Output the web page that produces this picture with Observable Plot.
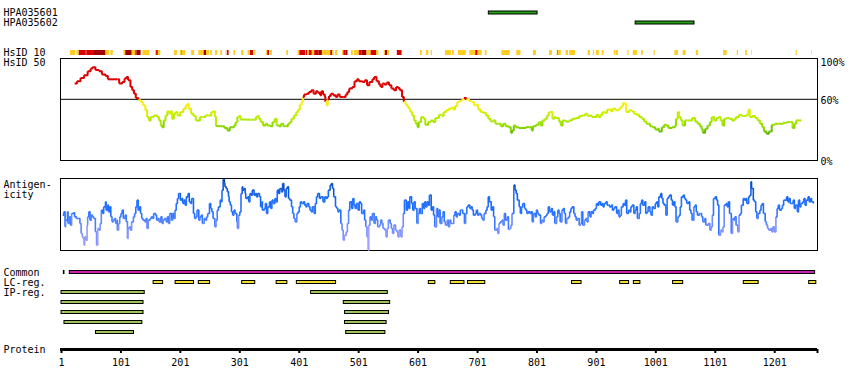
<!DOCTYPE html>
<html><head><meta charset="utf-8">
<script src="https://cdn.jsdelivr.net/npm/d3@7"></script>
<script src="https://cdn.jsdelivr.net/npm/@observablehq/plot@0.6"></script>
<style>
body{margin:0;background:#fff}
#chart{position:relative;width:850px;height:390px;overflow:hidden;background:#fff}
</style>
</head><body><div id="chart"></div>
<script>
const proteinLength = 1273;

// Antibodies
const antibodies = ["HPA035601", "HPA035602"];
const antibodyStart = [720, 967];
const antibodyEnd = [802, 1066];

// HsID 10 strip (level 1 = yellow, 2 = red, 3 = dark red)
const hsid10Start = [16,27,31,33,42,44,55,76,84,106,109,120,126,128,138,159,161,164,191,201,203,204,220,232,241,245,252,260,269,278,280,291,304,315,319,324,326,346,348,353,380,399,402,413,415,418,423,427,434,440,454,457,462,474,476,480,489,494,502,507,515,522,531,544,546,550,566,605,615,623,647,659,669,688,698,702,714,742,767,795,822,835,836,837,850,856,887,896,901,911,931,934,954,963,977,998,1033,1047,1069,1115,1138,1152,1162,1237,1263];
const hsid10End   = [25,31,33,42,44,55,76,82,88,109,120,126,128,135,150,161,164,168,196,203,204,210,225,241,245,250,255,264,272,279,283,294,308,319,324,325,328,348,351,356,383,402,412,415,418,423,427,434,440,454,457,460,466,476,480,483,492,502,507,515,522,531,535,546,550,553,574,608,619,625,657,662,682,698,702,709,717,756,774,800,827,836,837,842,854,866,891,898,906,914,933,938,956,970,980,1000,1039,1052,1073,1121,1140,1155,1163,1239,1264];
const hsid10Level = [1,1,3,2,3,2,3,1,1,1,3,1,2,3,1,1,2,1,1,1,3,1,1,1,3,1,1,1,1,1,2,1,1,1,2,1,1,1,2,1,1,1,2,2,1,2,1,2,3,1,2,1,1,1,2,3,1,1,2,3,1,2,1,1,3,1,2,1,1,1,1,1,1,1,2,1,1,1,1,1,1,1,2,1,1,1,1,1,1,1,1,1,1,1,1,1,1,1,1,1,1,1,1,1,1];

// HsID 50 identity (%) along the sequence
const hsid50Pos = [
23,27,33,39,45,50,53,58,64,69,
75,79,86,95,98,103,107,110,113,117,
120,123,126,130,134,138,142,145,148,151,
156,162,165,168,170,173,176,179,182,184,
187,190,193,196,201,206,210,213,215,219,
223,227,229,234,238,243,249,253,256,259,
261,269,275,280,284,288,291,294,297,299,
302,311,319,326,328,330,333,336,340,344,
347,352,356,360,363,367,370,374,378,382,
385,388,392,396,399,402,405,407,409,413,
417,421,425,429,432,436,438,441,444,445,
447,449,451,454,458,462,465,469,475,479,
482,485,490,494,498,501,507,511,515,519,
524,527,531,535,538,541,544,548,552,556,
560,564,567,570,574,577,580,583,586,588,
591,594,597,600,602,606,610,613,
618,622,626,630,636,641,644,648,652,656,
660,663,667,670,674,678,682,687,691,695,
699,702,706,710,715,719,723,727,731,736,
740,744,748,753,757,759,762,765,770,776,
782,788,792,794,799,804,807,810,814,818,
821,824,827,830,832,838,841,844,849,855,
860,866,872,877,882,886,889,893,897,901,
904,908,911,914,919,925,928,933,938,940,
943,946,948,951,956,960,964,968,973,977,
981,985,988,991,995,1000,1004,1006,1011,1015,
1018,1022,1028,1033,1035,1038,1040,1043,1046,1050,
1054,1058,1062,1067,1071,1075,1078,1080,1084,1088,
1092,1095,1099,1103,1106,1110,1113,1116,1120,1124,
1129,1133,1136,1141,1145,1149,1153,1157,1159,1163,
1168,1172,1176,1180,1183,1187,1191,1196,1201,1208,
1215,1222,1228,1231,1234,1237,1242,1246];
const hsid50Val = [
75.4,77.7,80.9,83.6,87.5,90.1,91.4,88.8,87.5,84.2,
82.9,79.6,79.6,79.6,75.4,77.0,80.3,81.9,78.7,72.1,
68.8,65.5,61.3,59.0,57.3,54.1,49.2,42.6,39.3,42.6,
44.2,42.6,39.3,34.4,32.7,39.3,44.2,48.2,45.9,48.2,
40.9,45.9,47.5,44.2,47.5,50.8,54.1,55.7,50.8,45.9,
43.6,39.3,39.3,42.6,42.6,44.2,44.2,47.5,48.2,42.6,
33.7,33.7,31.8,29.5,32.7,32.7,34.4,37.7,42.6,43.6,
40.3,40.0,40.0,40.0,42.6,43.6,40.9,37.7,34.4,36.0,
34.4,33.7,37.7,40.9,34.4,33.7,36.0,33.7,33.7,36.0,
37.7,40.9,44.2,47.5,50.1,54.7,57.3,62.3,64.6,65.5,
67.2,68.8,65.5,67.8,66.5,63.9,67.8,64.6,62.3,57.3,
54.1,60.0,63.2,65.5,63.9,62.3,64.6,62.3,62.3,64.6,
67.2,70.5,72.1,77.7,79.6,77.7,77.0,78.7,73.7,77.0,
79.6,81.9,77.7,74.4,72.1,75.4,74.4,76.4,73.7,70.5,
68.8,72.1,71.1,68.8,62.3,57.3,54.7,52.4,50.1,47.5,
44.2,39.3,36.0,32.7,37.7,42.6,40.9,35.1,
37.7,39.3,37.7,41.6,44.9,43.6,47.5,49.2,50.8,51.8,
50.1,53.4,57.3,58.0,59.6,61.3,59.6,58.0,57.3,54.1,
54.7,50.1,47.5,46.9,44.2,40.9,38.3,39.3,36.0,36.0,
33.7,36.0,33.7,32.7,27.2,29.5,34.4,32.7,31.8,31.8,
32.7,32.7,29.5,33.7,35.1,37.7,34.4,39.3,40.9,44.2,
47.5,47.5,40.9,42.6,41.6,38.3,34.4,39.3,38.3,39.3,
40.9,41.6,43.6,44.2,45.9,43.6,44.2,42.6,42.6,44.9,
42.6,44.9,47.5,46.9,50.1,48.2,50.8,49.2,50.1,51.4,
53.4,56.7,55.7,47.5,49.2,48.2,45.9,44.9,42.6,40.9,
38.3,36.0,36.0,33.7,32.7,30.5,31.1,28.5,32.7,35.1,
34.4,31.8,32.7,34.4,40.9,47.5,42.6,39.3,34.4,39.3,
39.3,39.3,41.6,38.3,36.0,33.7,30.5,27.2,31.1,34.4,
37.7,42.6,39.3,41.6,42.6,39.3,34.4,40.9,41.6,40.9,
39.3,40.9,42.6,44.9,43.6,43.6,44.9,50.1,42.6,43.6,
41.6,39.3,36.0,32.7,28.5,26.2,28.5,35.1,36.0,36.0,
37.0,37.7,37.7,31.8,36.0,39.3,39.3,39.3];

// Antigenicity score (arbitrary units) along the sequence
const antigenPos = [
3,5,7,8,11,12,14,16,18,21,
23,26,29,32,34,36,37,39,40,42,
44,45,47,49,51,53,55,58,60,62,
64,66,68,70,72,75,76,78,80,82,
84,86,88,90,92,94,95,97,99,101,
103,105,108,110,112,113,115,117,119,122,
124,126,128,130,132,134,136,138,141,143,
145,147,150,152,154,156,159,161,163,165,
168,170,172,174,177,179,181,183,186,188,
190,192,194,196,198,201,203,205,207,209,
211,214,216,218,220,223,225,227,229,232,
234,236,238,241,243,245,247,250,252,254,
256,259,261,263,265,268,270,271,273,275,
276,278,280,282,283,285,287,289,291,293,
296,297,299,301,303,305,306,308,310,311,
314,316,318,320,322,325,327,329,331,334,
336,338,339,342,344,346,348,351,353,355,
357,360,362,364,366,368,371,373,375,377,
379,381,383,385,388,390,392,394,397,399,
401,403,405,408,410,412,414,417,419,421,
423,426,428,430,432,435,437,439,441,444,
446,448,450,453,455,457,459,462,464,466,
468,471,473,475,477,480,482,484,486,489,
491,493,495,497,500,502,504,506,509,511,
513,515,517,518,520,522,524,527,529,531,
533,536,538,540,542,545,547,549,551,554,
556,558,560,563,565,567,569,572,574,576,
578,581,583,585,587,590,592,594,596,599,
601,603,605,608,610,612,
614,616,618,620,623,625,627,629,632,634,
636,638,641,643,645,647,650,652,654,656,
658,661,663,665,667,670,672,674,676,679,
681,683,685,688,690,692,694,697,699,701,
703,706,708,710,712,715,717,719,721,724,
726,728,730,733,735,737,739,742,744,746,
748,751,753,755,757,759,762,764,766,768,
771,773,775,777,780,782,784,786,789,791,
793,795,798,800,802,804,807,809,811,813,
816,818,820,822,825,827,829,831,834,836,
838,840,843,845,847,849,851,854,856,858,
860,863,865,867,869,872,874,876,878,881,
883,885,887,890,892,894,896,899,901,903,
905,908,910,912,914,917,919,921,923,926,
928,930,932,935,937,939,941,943,946,948,
950,952,955,957,959,961,964,966,968,970,
973,975,977,979,982,984,986,988,991,993,
995,997,1000,1002,1004,1006,1009,1011,1013,1015,
1018,1020,1022,1024,1027,1029,1031,1033,1035,1038,
1040,1042,1044,1047,1049,1051,1053,1056,1058,1060,
1062,1065,1067,1069,1071,1074,1076,1078,1080,1083,
1085,1087,1089,1092,1094,1096,1098,1101,1103,1105,
1107,1110,1112,1114,1116,1119,1121,1123,1125,1128,
1130,1132,1134,1136,1139,1141,1143,1145,1148,1150,
1152,1154,1157,1159,1161,1162,1165,1167,1169,1171,
1173,1176,1178,1180,1182,1185,1187,1189,1191,1194,
1196,1198,1200,1203,1205,1207,1209,1212,1214,1216,
1218,1221,1223,1225,1227,1230,1232,1234,1236,1239,
1241,1243,1245,1248,1250,1252,1254,1257,1259,1261,
1263,1266];
const antigenVal = [
106,116,71,91,116,81,101,76,111,113,
101,96,96,81,51,41,36,16,41,31,
76,101,116,91,106,101,96,56,16,66,
61,81,121,111,131,146,121,136,116,131,
101,86,91,96,81,91,61,81,101,111,
121,96,106,86,36,66,71,61,86,101,
111,131,151,121,131,111,96,91,86,96,
66,91,96,101,96,111,106,91,96,86,
101,81,91,96,86,101,81,111,91,111,
96,121,141,156,171,151,156,141,151,136,
161,171,146,141,156,111,96,101,121,91,
101,106,81,96,91,101,111,141,126,116,
96,71,91,121,131,151,146,181,213,201,
191,186,176,161,146,136,116,106,121,111,
86,66,106,116,171,191,181,186,171,156,
161,146,171,166,181,166,171,161,171,161,
131,146,121,126,141,111,131,146,126,151,
141,156,146,181,171,186,176,201,181,161,
186,191,156,151,131,111,96,86,111,116,
131,146,141,146,136,131,141,131,121,116,
131,111,141,161,171,156,161,161,146,161,
156,161,181,196,201,186,161,131,126,116,
121,81,61,31,46,56,81,121,146,126,
156,136,126,141,121,146,141,111,121,91,
71,41,1,76,101,91,111,81,101,91,
71,76,91,81,66,61,41,66,91,81,
66,51,76,61,56,41,61,41,71,111,
151,121,146,126,161,141,121,146,126,81,
111,126,111,141,126,146,
131,146,136,166,121,131,106,71,126,101,
121,81,101,116,86,76,91,71,91,81,
81,106,116,101,111,106,121,121,111,81,
111,131,136,126,131,121,106,111,121,106,
111,106,96,91,111,121,131,161,146,121,
131,101,61,66,51,81,86,91,76,111,
91,101,63,66,76,111,196,181,171,151,
131,111,131,141,126,121,111,116,111,116,
86,111,101,121,111,106,81,91,86,101,
106,111,131,116,126,106,116,81,101,121,
111,86,121,126,111,81,96,101,116,126,
131,111,101,91,96,76,81,116,76,91,
96,86,116,101,116,111,121,126,141,136,
146,136,141,131,141,146,136,136,131,136,
121,126,131,111,121,101,106,131,141,136,
151,111,121,116,131,136,111,121,131,96,
111,141,151,136,146,111,116,131,116,106,
131,126,141,146,131,161,171,156,141,136,
106,156,161,166,151,136,146,131,86,101,
106,131,161,166,156,151,141,146,121,111,
91,131,136,116,106,111,111,101,86,96,
76,76,81,61,71,106,156,161,151,136,
46,61,56,71,136,141,131,146,111,51,
96,91,101,76,56,106,111,136,156,151,
156,141,161,166,206,186,151,146,116,96,
111,121,136,141,111,86,76,66,61,66,
56,71,56,101,126,136,121,126,136,151,
151,161,146,156,141,141,151,126,136,116,
151,131,141,146,156,136,151,161,146,156,
146,141];

// Annotation tracks
const commonStart = [5, 15];
const commonEnd = [6, 1269];
const lcStart = [156,193,232,305,363,397,619,656,685,860,941,964,1030,1149,1259];
const lcEnd   = [172,224,251,327,381,463,630,679,714,876,956,975,1047,1174,1271];
const ipTrack = [1,1,2,2,3,3,4,4,5,5];
const ipStart = [1,421,1,476,1,478,6,478,59,480];
const ipEnd   = [141,550,139,554,139,552,137,548,123,546];

// Labels and ticks
const topRows = ["HPA035601", "HPA035602", "r3", "r4", "HsID 10"];
const trackRows = ["Common", "LC-reg.", "IP-reg.", "IP 2", "IP 3", "IP 4", "IP 5"];
const pctTicks = [100, 60, 0];
const pctLabels = ["100%", "60%", "0%"];
const axisTicks = [1, 101, 201, 301, 401, 501, 601, 701, 801, 901, 1001, 1101, 1201];

const chart = document.getElementById("chart");
const style = {fontFamily: "'DejaVu Sans Mono', monospace", fontSize: "10px", background: "transparent", overflow: "visible", color: "black"};
const xOpt = () => ({domain: [1, proteinLength], range: [61, 817], axis: null});
function place(svg, top) {
  svg.style.position = "absolute";
  svg.style.left = "0px";
  svg.style.top = top + "px";
  chart.appendChild(svg);
}

// Panel 1: antibodies + HsID 10
const abData = antibodies.map((name, i) => ({name, start: antibodyStart[i], end: antibodyEnd[i]}));
const stripData = hsid10Start.map((s, i) => ({start: s, end: hsid10End[i], level: hsid10Level[i]}));
place(Plot.plot({
  width: 850, height: 57, marginLeft: 60, marginRight: 33, marginTop: 0, marginBottom: 0,
  x: xOpt(),
  y: {type: "band", domain: topRows, range: [7, 57], padding: 0, axis: null},
  color: {type: "ordinal", domain: [1, 2, 3], range: ["#ffcc22", "#dd0000", "#a50000"]},
  style,
  marks: [
    Plot.barX(abData, {x1: "start", x2: "end", y: "name", fill: "#22a011", stroke: "black", strokeWidth: 1, insetTop: 4, insetBottom: 3}),
    Plot.barX(stripData, {x1: "start", x2: "end", y: () => "HsID 10", fill: "level", insetTop: 3, insetBottom: 2}),
    Plot.text(["HPA035601", "HPA035602", "HsID 10"], {y: d => d, text: d => d, frameAnchor: "left", textAnchor: "start", dx: -57, dy: 0.5, fill: "black"})
  ]
}), 0);

// Panel 2: HsID 50
const hsid50Segs = hsid50Pos.slice(0, -1).map((p, i) => ({x1: p, y1: hsid50Val[i], x2: hsid50Pos[i + 1], y2: hsid50Val[i + 1], v: hsid50Val[i]}));
place(Plot.plot({
  width: 850, height: 113, marginLeft: 60, marginRight: 33, marginTop: 1, marginBottom: 10,
  x: xOpt(),
  y: {domain: [0, 100], range: [103, 1], axis: null},
  color: {type: "linear", domain: [25, 30, 38, 46, 52, 59.9, 60, 100],
          range: ["#55aa00", "#77cc00", "#a8e800", "#c8f000", "#eeee00", "#ffee33", "#dd0000", "#dd0000"]},
  style,
  marks: [
    Plot.frame({stroke: "black"}),
    Plot.ruleY([60], {stroke: "black"}),
    Plot.link(hsid50Segs, {x1: "x1", y1: "y1", x2: "x2", y2: "y2", stroke: "v", strokeWidth: 2, curve: "step-after"}),
    Plot.text(["HsID 50"], {text: d => d, frameAnchor: "top-left", textAnchor: "start", lineAnchor: "middle", dx: -57, dy: 4.5, fill: "black"}),
    Plot.text([pctTicks[0]], {y: d => d, text: (d, i) => pctLabels[0], frameAnchor: "right", textAnchor: "start", dx: 3, dy: 4, fill: "black"}),
    Plot.text(pctTicks.slice(1), {y: d => d, text: (d, i) => pctLabels[i + 1], frameAnchor: "right", textAnchor: "start", dx: 3, dy: 1, fill: "black"})
  ]
}), 57);

// Panel 3: Antigenicity
const antigenSegs = antigenPos.slice(0, -1).map((p, i) => ({x1: p, y1: antigenVal[i], x2: antigenPos[i + 1], y2: antigenVal[i + 1], v: antigenVal[i]}));
place(Plot.plot({
  width: 850, height: 90, marginLeft: 60, marginRight: 33, marginTop: 8, marginBottom: 10,
  x: xOpt(),
  y: {domain: [0, 216], range: [80, 8], axis: null},
  color: {type: "linear", domain: [0, 45, 75, 110, 150, 216],
          range: ["#a4a2ff", "#8c96ff", "#6a8cff", "#2a72ff", "#1a6cff", "#0a48a8"]},
  style,
  marks: [
    Plot.frame({stroke: "black"}),
    Plot.link(antigenSegs, {x1: "x1", y1: "y1", x2: "x2", y2: "y2", stroke: "v", strokeWidth: 1.6, curve: "step-after"}),
    Plot.text(["Antigen-\nicity"], {text: d => d, frameAnchor: "top-left", textAnchor: "start", lineAnchor: "top", dx: -57, dy: 2, fill: "black"})
  ]
}), 170);

// Panel 4: annotation tracks
const commonData = commonStart.map((s, i) => ({start: s, end: commonEnd[i]}));
const lcData = lcStart.map((s, i) => ({start: s, end: lcEnd[i]}));
const ipData = ipStart.map((s, i) => ({start: s, end: ipEnd[i], row: trackRows[1 + ipTrack[i]]}));
place(Plot.plot({
  width: 850, height: 80, marginLeft: 60, marginRight: 33, marginTop: 0, marginBottom: 0,
  x: xOpt(),
  y: {type: "band", domain: trackRows, range: [7.3, 77.3], padding: 0, axis: null},
  style,
  marks: [
    Plot.barX(commonData, {x1: "start", x2: "end", y: () => "Common", fill: (d, i) => i === 0 ? "black" : "#d020b0", stroke: "black", insetTop: 3.5, insetBottom: 3.5}),
    Plot.barX(lcData, {x1: "start", x2: "end", y: () => "LC-reg.", fill: "#f0dc32", stroke: "black", insetTop: 3.5, insetBottom: 3.5}),
    Plot.barX(ipData, {x1: "start", x2: "end", y: "row", fill: "#9cc45a", stroke: "black", insetTop: 3.5, insetBottom: 3.5}),
    Plot.text(trackRows.slice(0, 3), {y: d => d, text: d => d, frameAnchor: "left", textAnchor: "start", dx: -57, fill: "black"})
  ]
}), 260);

// Panel 5: protein axis
place(Plot.plot({
  width: 850, height: 50, marginLeft: 60, marginRight: 33, marginTop: 0, marginBottom: 41,
  x: {domain: [1, proteinLength], range: [61, 817]},
  y: {domain: [0, 1], axis: null},
  style,
  marks: [
    Plot.ruleY([0], {stroke: "black", strokeWidth: 3}),
    Plot.axisX(axisTicks.concat([proteinLength]), {anchor: "bottom", tickSize: 4, tickPadding: 5, strokeWidth: 2, label: null,
      tickFormat: d => axisTicks.includes(d) ? String(d) : "", fill: "black", stroke: "black"}),
    Plot.text(["Protein"], {y: () => 0, text: d => d, frameAnchor: "left", textAnchor: "start", dx: -57, fill: "black"})
  ]
}), 340);
</script>
</body></html>
